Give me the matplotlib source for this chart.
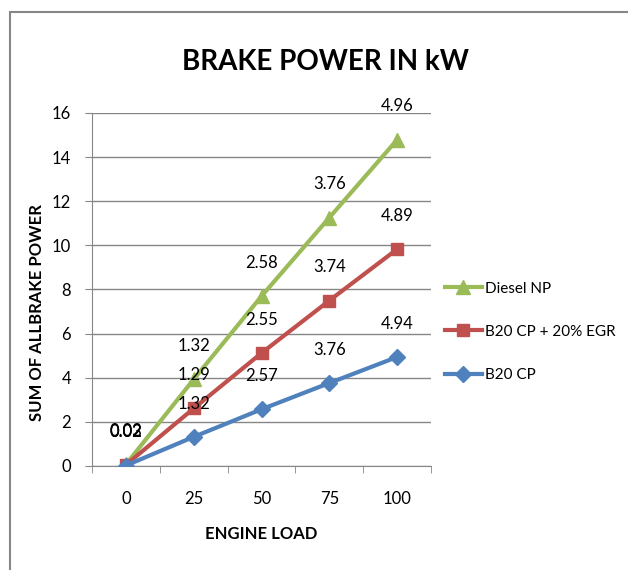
import numpy as np
import matplotlib.pyplot as plt
from matplotlib.patches import Rectangle

loads = ['0', '25', '50', '75', '100']
b20_cp = [0.02, 1.32, 2.57, 3.76, 4.94]
b20_egr = [0.03, 1.29, 2.55, 3.74, 4.89]
diesel_np = [0.02, 1.32, 2.58, 3.76, 4.96]

plt.rcParams['font.family'] = ['Lato', 'DejaVu Sans']


def main():
    fig = plt.figure(figsize=(6.28, 5.7), dpi=100)
    ax = fig.add_axes([0.1465, 0.1825, 0.54, 0.6193])

    x = np.arange(len(loads))
    s1 = np.array(b20_cp)
    s2 = s1 + np.array(b20_egr)
    s3 = s2 + np.array(diesel_np)

    series = [
        (s3, diesel_np, 'Diesel NP', '#9BBB59', '^', 10),
        (s2, b20_egr, 'B20 CP + 20% EGR', '#C0504D', 's', 9),
        (s1, b20_cp, 'B20 CP', '#4F81BD', 'D', 8),
    ]
    for ys, vals, name, col, mk, ms in series:
        ax.plot(x, ys, color=col, lw=3, marker=mk, markersize=ms,
                label=name, zorder=3)
        for xi, yi, v in zip(x, ys, vals):
            ax.annotate(f'{v:.2f}', (xi, yi), xytext=(0, 24),
                        textcoords='offset points', ha='center', va='center',
                        fontsize=12, zorder=4)

    ax.set_xlim(-0.5, 4.5)
    ax.set_ylim(0, 16)
    ax.set_yticks(np.arange(0, 17, 2))
    ax.set_xticks(x)
    ax.set_xticklabels(loads)
    ax.set_xticks(np.arange(-0.5, 4.6, 1), minor=True)
    ax.tick_params(axis='x', which='major', length=0, pad=18, labelsize=12)
    ax.tick_params(axis='x', which='minor', length=5, color='#868686')
    ax.tick_params(axis='y', length=5, color='#868686', labelsize=12, pad=10)
    ax.grid(axis='y', color='#868686', lw=1)
    ax.set_axisbelow(True)
    for sp in ['top', 'right']:
        ax.spines[sp].set_visible(False)
    for sp in ['left', 'bottom']:
        ax.spines[sp].set_color('#868686')

    ax.set_xlabel('ENGINE LOAD', fontsize=12, fontweight='bold')
    ax.xaxis.set_label_coords(0.5, -0.17)
    ax.set_ylabel('SUM OF ALLBRAKE POWER', fontsize=12, fontweight='bold')
    ax.yaxis.set_label_coords(-0.139, 0.436)

    fig.text(0.518, 0.892, 'BRAKE POWER IN kW', ha='center', va='center',
             fontsize=20, fontweight='bold')

    ax.legend(loc='center left', bbox_to_anchor=(1.0, 0.38), frameon=False,
              fontsize=11, labelspacing=1.9, handlelength=2.4,
              handletextpad=0.2)

    fig.patches.append(Rectangle((10 / 628, -0.1), 1.2, (570 - 12) / 570 + 0.1,
                                 transform=fig.transFigure, fill=False,
                                 edgecolor='#868686', lw=1.5))

    fig.savefig('out.png', dpi=100)


if __name__ == "__main__":
    main()
